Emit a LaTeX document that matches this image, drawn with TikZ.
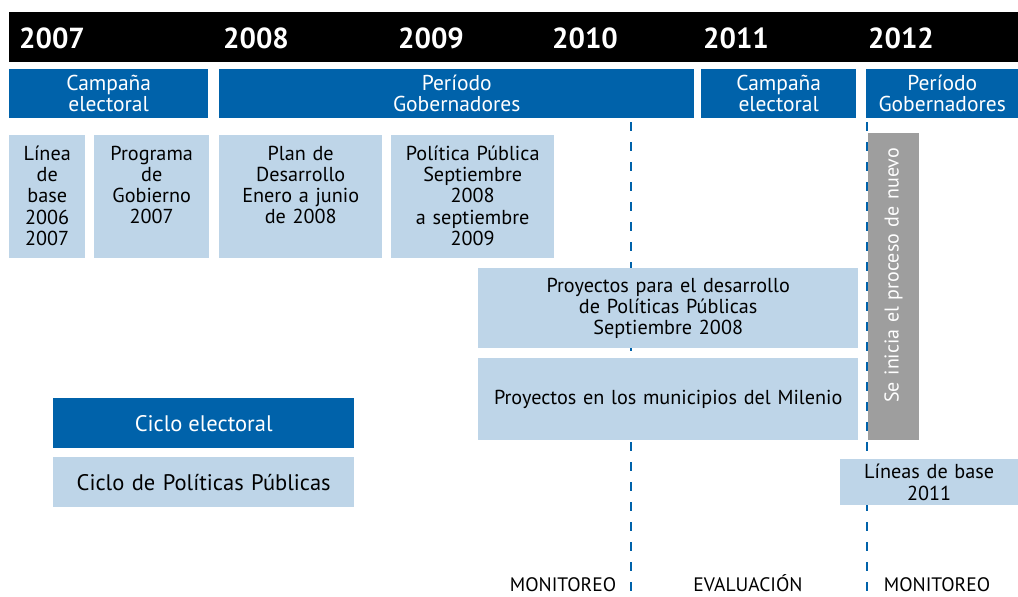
\documentclass[tikz,border=0pt]{standalone}
\usepackage{fontspec}
\setmainfont{PT Sans}
\usetikzlibrary{positioning}
\definecolor{ciclo}{RGB}{0,98,170}
\definecolor{politica}{RGB}{190,213,232}
\definecolor{gris}{RGB}{158,158,158}
\tikzset{yearlabel/.style={text=white, font=\fontsize{29}{30}\selectfont\bfseries},
  cyclebox/.style={fill=ciclo, text=white, align=center, inner sep=0pt, anchor=north west, font=\fontsize{21.5}{21}\selectfont},
  policybox/.style={fill=politica, align=center, inner sep=0pt, anchor=north west, font=\fontsize{20.2}{21.3}\selectfont},
  phaselabel/.style={inner sep=0pt, anchor=base, font=\fontsize{19.5}{20}\selectfont},
  divider/.style={draw=ciclo, line width=2.2pt, dash pattern=on 9pt off 11pt}}
\newcommand{\toprow}[1]{\parbox[c][102pt][t]{\linewidth}{\centering #1}}

\begin{document}
\begin{tikzpicture}[x=1pt,y=-1pt]
        \useasboundingbox (0,0) rectangle (1018,597);
        % phase dividers
        \coordinate (monitor top) at (631,122);
        \coordinate (monitor end) at (631,597);
        \coordinate (restart top) at (867,122);
        \coordinate (restart end) at (867,597);
        \draw[divider] (monitor top) -- (monitor end);
        \draw[divider] (restart top) -- (restart end);
        % years
        \node[fill=black, inner sep=0pt, anchor=north west, minimum width=1009, minimum height=50] (yearbar) at (9,12) {};
        \node[yearlabel] (y2007) at (52,38) {2007};
        \node[yearlabel] (y2008) at (256,38) {2008};
        \node[yearlabel] (y2009) at (431,38) {2009};
        \node[yearlabel] (y2010) at (585,38) {2010};
        \node[yearlabel] (y2011) at (736,38) {2011};
        \node[yearlabel] (y2012) at (901,38) {2012};
        % electoral cycle
        \node[cyclebox, minimum width=199, minimum height=49] (campaign1) at (9,69) {Campaña\\electoral};
        \node[cyclebox, minimum width=475, minimum height=49] (term1) at (219,69) {Período\\Gobernadores};
        \node[cyclebox, minimum width=155, minimum height=49] (campaign2) at (701,69) {Campaña\\electoral};
        \node[cyclebox, minimum width=152, minimum height=49] (term2) at (866,69) {Período\\Gobernadores};
        % public policy cycle
        \node[policybox, text width=76, minimum height=123] (baseline) at (9,135) {\toprow{Línea\\de\\base\\2006\\2007}};
        \node[policybox, text width=115, minimum height=123] (program) at (94,135) {\toprow{Programa\\de\\Gobierno\\2007}};
        \node[policybox, text width=163, minimum height=123] (devplan) at (219,135) {\toprow{Plan de\\Desarrollo\\Enero a junio\\de 2008}};
        \node[policybox, text width=163, minimum height=123] (policy) at (391,135) {\toprow{Política Pública\\Septiembre\\2008\\a septiembre\\2009}};
        \node[policybox, text width=380, minimum height=80] (projects) at (478,268) {Proyectos para el desarrollo\\de Políticas Públicas\\Septiembre 2008};
        \node[policybox, text width=380, minimum height=82] (millennium) at (478,358) {Proyectos en los municipios del Milenio};
        \node[fill=gris, text=white, rotate=90, inner sep=0pt, align=right, text width=277, minimum width=307, minimum height=51, font=\fontsize{20}{20}\selectfont] (restart) at (893.5,286.5) {Se inicia el proceso de nuevo};
        \node[policybox, text width=178, minimum height=46] (baseline2011) at (840,459) {\raisebox{4pt}{\parbox{\linewidth}{\centering Líneas de base\\2011}}};
        % legend
        \node[cyclebox, font=\fontsize{22.5}{22}\selectfont, minimum width=301, minimum height=50] (key electoral) at (53,398) {Ciclo electoral};
        \node[policybox, font=\fontsize{22.5}{22}\selectfont, text width=301, minimum height=50] (key policy) at (53,457) {Ciclo de Políticas Públicas};
        % phases
        \node[phaselabel] (monitoring1) at (563,591) {MONITOREO};
        \node[phaselabel] (evaluation) at (748,591) {EVALUACIÓN};
        \node[phaselabel] (monitoring2) at (937,591) {MONITOREO};
\end{tikzpicture}
\end{document}
